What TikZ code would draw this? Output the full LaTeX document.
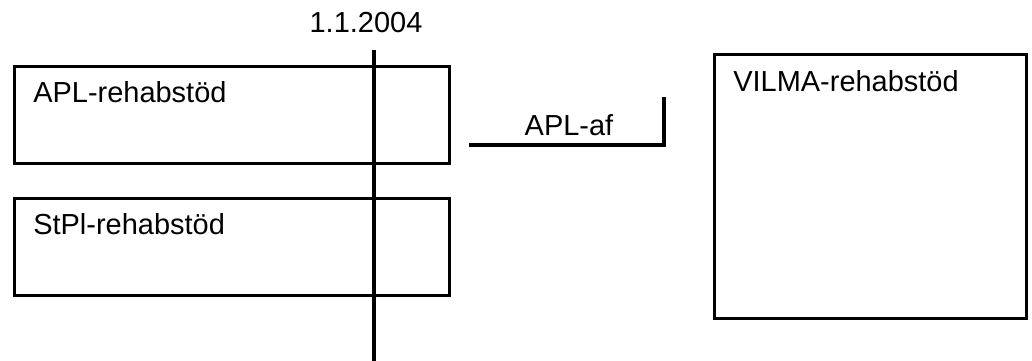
\documentclass[tikz,border=0pt]{standalone}
\usepackage{fontspec}
\setmainfont{Liberation Sans}
\def\px{0.025cm}
\begin{document}
\begin{tikzpicture}
        [x=0.025cm, y=-0.025cm,
        box/.style={draw, line width=2.3pt, rectangle, anchor=north west, inner sep=0pt},
        lbl/.style={inner sep=0pt, font=\fontsize{20.6}{24}\selectfont},
        rule/.style={black, line width=2.3pt}]

        \useasboundingbox (0,0) rectangle (1032,361);

        % the boxes
        \node[box, minimum width={435*\px}, minimum height={97*\px}] (apl) at (13,65) {};
        \node[box, minimum width={435*\px}, minimum height={97*\px}] (stpl) at (13,197) {};
        \node[box, minimum width={312*\px}, minimum height={264*\px}] (vilma) at (713,53) {};

        % Labels for the boxes
        \node[lbl, anchor=base west] (apltxt) at (33,103) {APL-rehabstöd};
        \node[lbl, anchor=base west] (stpltxt) at (33,234) {StPl-rehabstöd};
        \node[lbl, anchor=base west] (vilmatxt) at (733,92) {VILMA-rehabstöd};

        % date line
        \coordinate (dtop) at (374,50);
        \coordinate (dbot) at (374,361);
        \node[lbl, anchor=base] (date) at (366,33) {1.1.2004};
        \draw[rule] (dtop) -- (dbot);

        % APL-af
        \coordinate (afl) at (469,145);
        \coordinate (afc) at (664,145);
        \coordinate (aft) at (664,97);
        \draw[rule] (afl) -- (afc) -- (aft);
        \node[lbl, anchor=base] (aftxt) at (569,136) {APL-af};

        \end{tikzpicture}
\end{document}
